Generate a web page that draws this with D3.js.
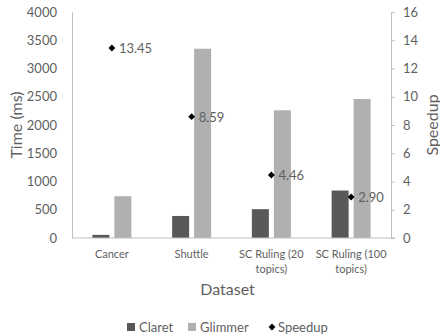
<!DOCTYPE html>
<html>
<head>
<meta charset="utf-8">
<script src="https://cdn.jsdelivr.net/npm/d3@7"></script>
<style>
  body { margin: 0; background: #fff; }
  text { font-family: Lato, "Open Sans", sans-serif; fill: #5f5f5f; }
</style>
</head>
<body>
<svg id="chart"></svg>
<script>
const datasets = ['Cancer', 'Shuttle', 'SC Ruling (20 topics)', 'SC Ruling (100 topics)'];
const datasetLines = [['Cancer'], ['Shuttle'], ['SC Ruling (20', 'topics)'], ['SC Ruling (100', 'topics)']];
const claret = [55, 390, 510, 840];
const glimmer = [740, 3350, 2260, 2460];
const speedup = [13.45, 8.59, 4.46, 2.90];
const timeTicks = [0, 500, 1000, 1500, 2000, 2500, 3000, 3500, 4000];
const speedTicks = [0, 2, 4, 6, 8, 10, 12, 14, 16];

const width = 440, height = 336;
const margin = { top: 12, right: 49, bottom: 98, left: 72 };
const innerW = width - margin.left - margin.right;
const innerH = height - margin.top - margin.bottom;

const svg = d3.select('#chart').attr('width', width).attr('height', height);
const chart = svg.append('g').attr('transform', `translate(${margin.left},${margin.top})`);

const x = d3.scaleBand().domain(datasets).range([0, innerW]);
const y = d3.scaleLinear().domain([0, 4000]).range([innerH, 0]);
const y2 = d3.scaleLinear().domain([0, 16]).range([innerH, 0]);

const barW = 17, gap = 5;

// bars
datasets.forEach((d, i) => {
    const cx = x(d) + x.bandwidth() / 2;
    chart.append('rect').attr('x', cx - gap / 2 - barW).attr('y', y(claret[i]))
        .attr('width', barW).attr('height', innerH - y(claret[i])).attr('fill', '#595959');
    chart.append('rect').attr('x', cx + gap / 2).attr('y', y(glimmer[i]))
        .attr('width', barW).attr('height', innerH - y(glimmer[i])).attr('fill', '#b0b0b0');
});

// axes
const yAxisG = chart.append('g')
    .call(d3.axisLeft(y).tickValues(timeTicks).tickFormat(d3.format('d')).tickSize(0).tickPadding(15));
yAxisG.select('.domain').attr('stroke', '#bfbfbf');
yAxisG.selectAll('text').style('font-size', '13px').attr('fill', '#5f5f5f');

const y2AxisG = chart.append('g').attr('transform', `translate(${innerW},0)`)
    .call(d3.axisRight(y2).tickValues(speedTicks).tickSize(4).tickSizeOuter(4).tickPadding(8));
y2AxisG.select('.domain').attr('stroke', '#bfbfbf');
y2AxisG.selectAll('line').attr('stroke', '#bfbfbf');
y2AxisG.selectAll('text').style('font-size', '13px').attr('fill', '#5f5f5f');

chart.append('line').attr('x1', 0).attr('x2', innerW + 4).attr('y1', innerH).attr('y2', innerH)
    .attr('stroke', '#bfbfbf');

// category labels
datasets.forEach((d, i) => {
    const t = chart.append('text').attr('x', x(d) + x.bandwidth() / 2).attr('y', innerH + 20)
        .attr('text-anchor', 'middle').style('font-size', '11px');
    datasetLines[i].forEach((line, j) => {
        t.append('tspan').attr('x', x(d) + x.bandwidth() / 2).attr('dy', j === 0 ? 0 : 15).text(line);
    });
});

// speedup markers
const diamond = d3.symbol().type(d3.symbolDiamond2).size(30);
datasets.forEach((d, i) => {
    const cx = x(d) + x.bandwidth() / 2, cy = y2(speedup[i]);
    chart.append('path').attr('d', diamond).attr('transform', `translate(${cx},${cy})`).attr('fill', '#000');
    chart.append('text').attr('x', cx + 7).attr('y', cy + 5).style('font-size', '13px')
        .text(speedup[i].toFixed(2));
});

// titles
svg.append('text').attr('transform', `translate(22,${margin.top + innerH / 2}) rotate(-90)`)
    .attr('text-anchor', 'middle').style('font-size', '16px').text('Time (ms)');
svg.append('text').attr('transform', `translate(438,${margin.top + innerH / 2}) rotate(-90)`)
    .attr('text-anchor', 'middle').style('font-size', '16px').text('Speedup');
svg.append('text').attr('x', margin.left + innerW / 2 - 4).attr('y', 295)
    .attr('text-anchor', 'middle').style('font-size', '16px').text('Dataset');

// legend
const legend = svg.append('g').attr('transform', 'translate(0,327)');
legend.append('rect').attr('x', 127).attr('y', -4).attr('width', 8).attr('height', 8).attr('fill', '#595959');
legend.append('text').attr('x', 139).attr('y', 5).style('font-size', '13px').text('Claret');
legend.append('rect').attr('x', 188).attr('y', -4).attr('width', 8).attr('height', 8).attr('fill', '#b0b0b0');
legend.append('text').attr('x', 200).attr('y', 5).style('font-size', '13px').text('Glimmer');
legend.append('path').attr('d', diamond).attr('transform', 'translate(272,0)').attr('fill', '#000');
legend.append('text').attr('x', 278).attr('y', 5).style('font-size', '13px').text('Speedup');
</script>
</body>
</html>
